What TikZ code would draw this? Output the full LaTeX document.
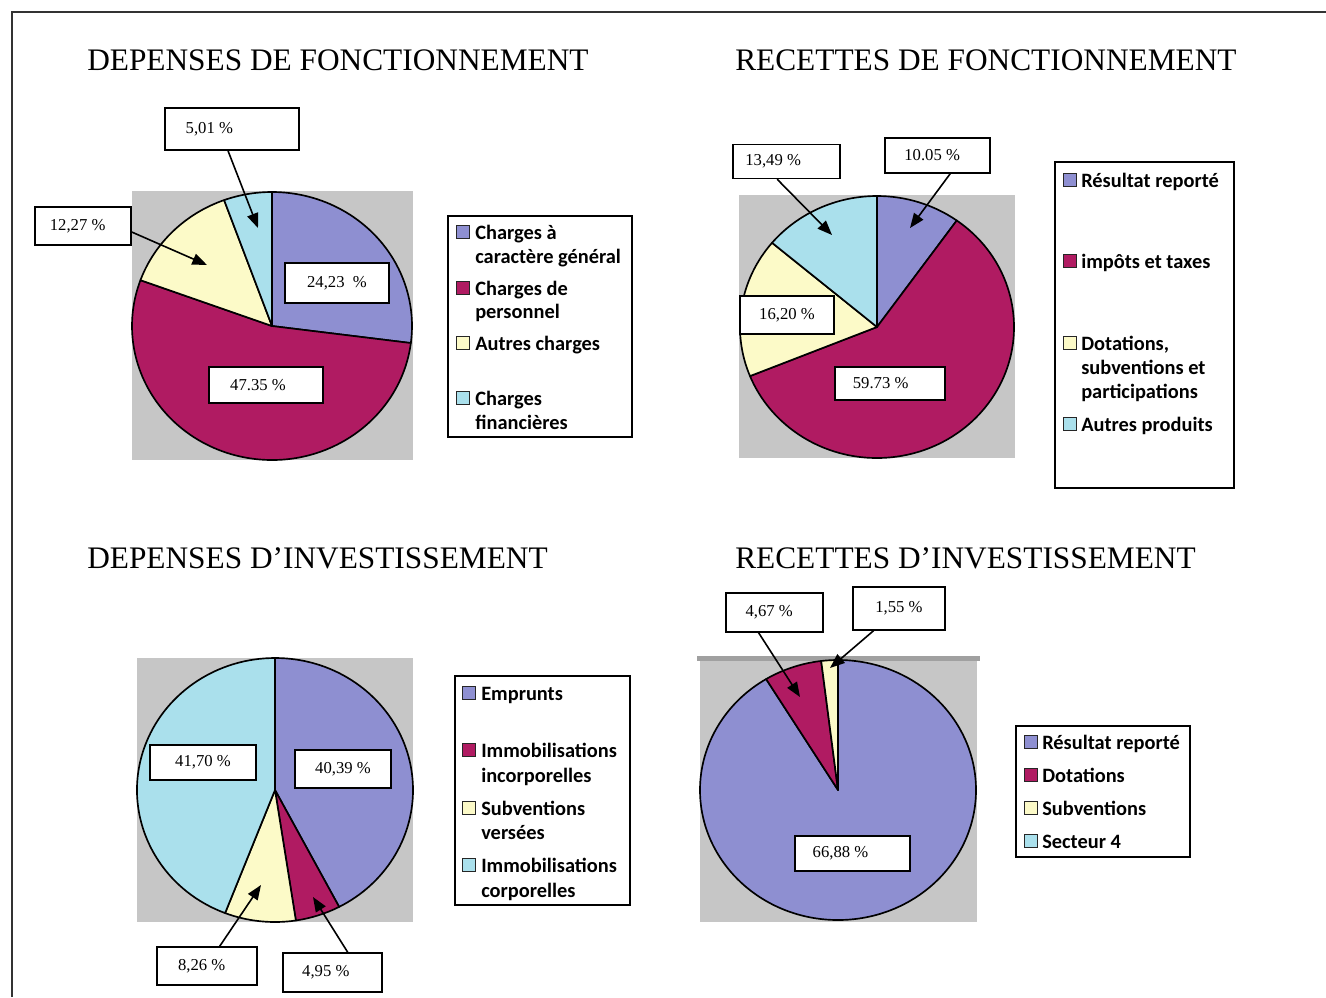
\documentclass[tikz,border=0pt]{standalone}
\usepackage{fontspec}
\setmainfont{Liberation Serif}
\newfontfamily\legfont{Carlito}
\usetikzlibrary{arrows.meta}
\definecolor{pieblue}{RGB}{142,143,209}
\definecolor{piemag}{RGB}{176,27,98}
\definecolor{pieyel}{RGB}{252,250,200}
\definecolor{piecyan}{RGB}{170,224,236}
\definecolor{bggray}{RGB}{198,198,198}
\definecolor{bgdark}{RGB}{160,160,160}
\newcommand\pieslice[7]{\filldraw[slice,fill=#7] (#1,#2) -- ++(#5:#3 and #4) arc[start angle=#5,end angle=#6,x radius=#3,y radius=#4] -- cycle;}
\begin{document}
\begin{tikzpicture}[x=0.75pt,y=-0.75pt,
  slice/.style={draw=black,line width=1.25pt,line join=round},
  lbl/.style={draw=black,fill=white,line width=1.1pt,inner sep=0pt,font=\fontsize{12.5}{14}\selectfont},
  ttl/.style={anchor=west,inner sep=0pt,font=\fontsize{23.5}{26}\selectfont},
  legtext/.style={anchor=west,inner sep=0pt,font=\legfont\bfseries\fontsize{15.3}{18}\selectfont,text height=10.5pt,text depth=0pt},
  legsq/.style={draw=black!85,line width=1pt,minimum size=10pt,inner sep=0pt},
  legbox/.style={draw=black,line width=1.2pt},
  arr/.style={-{Triangle[length=11pt,width=8.5pt]},line width=1.2pt},
  frame/.style={draw=black!80,line width=1.2pt}]
\useasboundingbox (0,0) rectangle (1326,997);
\fill[white] (0,0) rectangle (1326,997);
\draw[frame] (12,997) -- (12,12) -- (1326,12);

% ---------- Chart 1 ----------
\node[ttl] (t1) at (87,60) {DEPENSES DE FONCTIONNEMENT};
\fill[bggray] (132,191) rectangle (413,460);
\pieslice{272}{326}{140}{134}{-90}{7.3}{pieblue}
\pieslice{272}{326}{140}{134}{7.3}{200}{piemag}
\pieslice{272}{326}{140}{134}{-160}{-110}{pieyel}
\pieslice{272}{326}{140}{134}{-110}{-90}{piecyan}
\node[lbl,minimum width=100.5pt,minimum height=31.5pt] (b501) at (232,129) {\hspace*{-34pt}5,01 \%};
\node[lbl,minimum width=72pt,minimum height=28.5pt] (b1227) at (83,226) {\hspace*{-8pt}12,27 \%};
\node[lbl,minimum width=78pt,minimum height=30pt] (b2423) at (337,283) {24,23\ \ \%};
\node[lbl,minimum width=85.5pt,minimum height=27pt] (b4735) at (266,385) {\hspace*{-12pt}47.35 \%};
\coordinate (p501) at (258,228);
\coordinate (p1227) at (207,265);
\draw[arr] ([xshift=-3pt]b501.south) -- (p501);
\draw[arr] ([yshift=-4.5pt]b1227.east) -- (p1227);
\draw[legbox] (448,216) rectangle (632,437);
\node[legsq,fill=pieblue] (s11) at (463,232) {};
\node[legtext] (l11a) at (475,232) {Charges à};
\node[legtext] (l11b) at (475,256) {caractère général};
\node[legsq,fill=piemag] (s12) at (463,288) {};
\node[legtext] (l12a) at (475,288) {Charges de};
\node[legtext] (l12b) at (475,311) {personnel};
\node[legsq,fill=pieyel] (s13) at (463,343) {};
\node[legtext] (l13a) at (475,343) {Autres charges};
\node[legsq,fill=piecyan] (s14) at (463,398) {};
\node[legtext] (l14a) at (475,398) {Charges};
\node[legtext] (l14b) at (475,422) {financières};

% ---------- Chart 2 ----------
\node[ttl] (t2) at (735,60) {RECETTES DE FONCTIONNEMENT};
\fill[bggray] (739,195) rectangle (1015,458);
\pieslice{877}{327}{137}{131}{-90}{-54.4}{pieblue}
\pieslice{877}{327}{137}{131}{-54.4}{158}{piemag}
\pieslice{877}{327}{137}{131}{158}{220}{pieyel}
\pieslice{877}{327}{137}{131}{220}{270}{piecyan}
\node[lbl,minimum width=80.25pt,minimum height=25.5pt] (b1349) at (786.5,161.5) {\hspace*{-20pt}13,49 \%};
\node[lbl,minimum width=78.75pt,minimum height=26.25pt] (b1005) at (937.5,155.5) {\hspace*{-8pt}10.05 \%};
\node[lbl,minimum width=70.5pt,minimum height=28.5pt] (b1620) at (787,315) {16,20 \%};
\node[lbl,minimum width=82.5pt,minimum height=24.75pt] (b5973) at (890,383.5) {\hspace*{-14pt}59.73 \%};
\coordinate (p1349) at (832,235);
\coordinate (p1005) at (910,228);
\draw[arr] ([xshift=-7pt]b1349.south) -- (p1349);
\draw[arr] ([xshift=9.5pt]b1005.south) -- (p1005);
\draw[legbox] (1055,162) rectangle (1234,488);
\node[legsq,fill=pieblue] (s21) at (1070,180) {};
\node[legtext] (l21a) at (1081,180) {Résultat reporté};
\node[legsq,fill=piemag] (s22) at (1070,261) {};
\node[legtext] (l22a) at (1081,261) {impôts et taxes};
\node[legsq,fill=pieyel] (s23) at (1070,343) {};
\node[legtext] (l23a) at (1081,343) {Dotations,};
\node[legtext] (l23b) at (1081,367) {subventions et};
\node[legtext] (l23c) at (1081,391) {participations};
\node[legsq,fill=piecyan] (s24) at (1070,424) {};
\node[legtext] (l24a) at (1081,424) {Autres produits};

% ---------- Chart 3 ----------
\node[ttl] (t3) at (87,558) {DEPENSES D’INVESTISSEMENT};
\fill[bggray] (137,658) rectangle (413,922);
\pieslice{275}{790}{138}{132}{-90}{62.3}{pieblue}
\pieslice{275}{790}{138}{132}{62.3}{81.3}{piemag}
\pieslice{275}{790}{138}{132}{81.3}{111.2}{pieyel}
\pieslice{275}{790}{138}{132}{111.2}{270}{piecyan}
\node[lbl,minimum width=79.5pt,minimum height=26.25pt] (b4170) at (203,762.5) {41,70 \%};
\node[lbl,minimum width=72pt,minimum height=28.5pt] (b4039) at (343,769) {40,39 \%};
\node[lbl,minimum width=75pt,minimum height=28.5pt] (b826) at (207,966) {\hspace*{-8pt}8,26 \%};
\node[lbl,minimum width=74pt,minimum height=29pt] (b495) at (332.5,972.5) {\hspace*{-10pt}4,95 \%};
\coordinate (p826) at (261,885);
\coordinate (p495) at (313,897);
\draw[arr] ([xshift=9.5pt]b826.north) -- (p826);
\draw[arr] ([xshift=11.5pt]b495.north) -- (p495);
\draw[legbox] (455,676) rectangle (630,905);
\node[legsq,fill=pieblue] (s31) at (469,693) {};
\node[legtext] (l31a) at (481,693) {Emprunts};
\node[legsq,fill=piemag] (s32) at (469,750) {};
\node[legtext] (l32a) at (481,750) {Immobilisations};
\node[legtext] (l32b) at (481,775) {incorporelles};
\node[legsq,fill=pieyel] (s33) at (469,808) {};
\node[legtext] (l33a) at (481,808) {Subventions};
\node[legtext] (l33b) at (481,832) {versées};
\node[legsq,fill=piecyan] (s34) at (469,865) {};
\node[legtext] (l34a) at (481,865) {Immobilisations};
\node[legtext] (l34b) at (481,890) {corporelles};

% ---------- Chart 4 ----------
\node[ttl] (t4) at (735,558) {RECETTES D’INVESTISSEMENT};
\fill[bggray] (700,660) rectangle (977,922);
\fill[bgdark] (697,656) rectangle (980,661);
\pieslice{838}{790}{138}{130}{-90}{238.6}{pieblue}
\pieslice{838}{790}{138}{130}{-121.4}{-97}{piemag}
\pieslice{838}{790}{138}{130}{-97}{-90}{pieyel}
\node[lbl,minimum width=73pt,minimum height=29pt] (b467) at (774.5,612.5) {\hspace*{-8pt}4,67 \%};
\node[lbl,minimum width=69pt,minimum height=32pt] (b155) at (899,608.5) {1,55 \%};
\node[lbl,minimum width=86.25pt,minimum height=26.25pt] (b6688) at (852.5,853.5) {\hspace*{-18pt}66,88 \%};
\coordinate (p467) at (800,697);
\coordinate (p155) at (830,668);
\draw[arr] ([xshift=-12pt]b467.south) -- (p467);
\draw[arr] ([xshift=-19pt]b155.south) -- (p155);
\draw[legbox] (1016,726) rectangle (1190,857);
\node[legsq,fill=pieblue] (s41) at (1031,742) {};
\node[legtext] (l41a) at (1042,742) {Résultat reporté};
\node[legsq,fill=piemag] (s42) at (1031,775) {};
\node[legtext] (l42a) at (1042,775) {Dotations};
\node[legsq,fill=pieyel] (s43) at (1031,808) {};
\node[legtext] (l43a) at (1042,808) {Subventions};
\node[legsq,fill=piecyan] (s44) at (1031,841) {};
\node[legtext] (l44a) at (1042,841) {Secteur 4};
\end{tikzpicture}
\end{document}
